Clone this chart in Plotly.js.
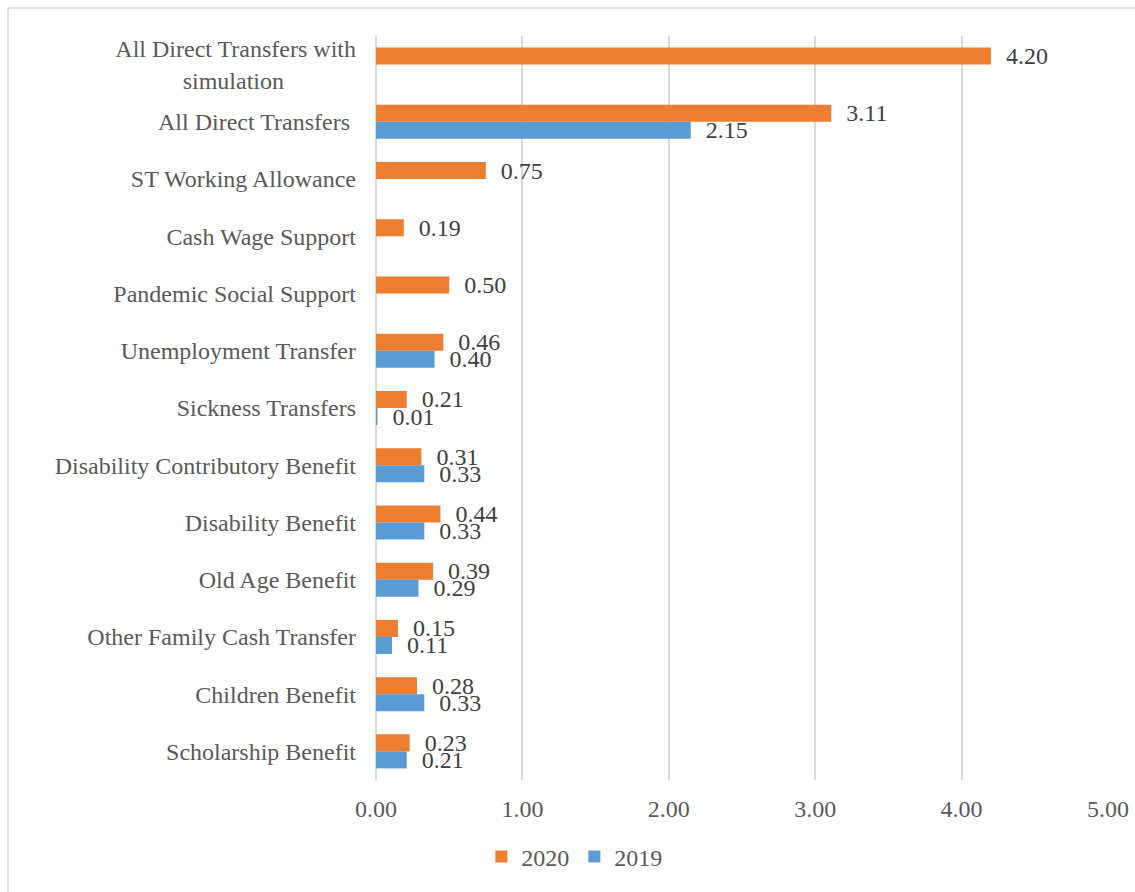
<!DOCTYPE html>
<html>
<head>
<meta charset="utf-8">
<script src="https://cdn.plot.ly/plotly-3.0.1.min.js"></script>
<style>html,body{margin:0;padding:0;background:#fff;}#chart{width:1135px;height:892px;}</style>
</head>
<body>
<div id="chart"></div>
<script>
const NB = '\u00A0';
const categories = [
  'All Direct Transfers with<br>simulation' + NB.repeat(12),
  'All Direct Transfers' + NB,
  'ST Working Allowance',
  'Cash Wage Support',
  'Pandemic Social Support',
  'Unemployment Transfer',
  'Sickness Transfers',
  'Disability Contributory Benefit',
  'Disability Benefit',
  'Old Age Benefit',
  'Other Family Cash Transfer',
  'Children Benefit',
  'Scholarship Benefit'
];
const values2020 = [4.20, 3.11, 0.75, 0.19, 0.50, 0.46, 0.21, 0.31, 0.44, 0.39, 0.15, 0.28, 0.23];
const values2019 = [null, 2.15, null, null, null, 0.40, 0.01, 0.33, 0.33, 0.29, 0.11, 0.33, 0.21];
const xTicks = [0, 1, 2, 3, 4, 5];
const xTickLabels = ['0.00', '1.00', '2.00', '3.00', '4.00', '5.00'];

const font = {family: '"Liberation Serif", "Times New Roman", serif', size: 24, color: '#595959'};
const labelFont = {family: '"Liberation Serif", "Times New Roman", serif', size: 24, color: '#404040'};

const traces = [
  {
    type: 'bar', orientation: 'h', name: '2020',
    y: categories, x: values2020,
    marker: {color: '#ED7D31'},
    texttemplate: NB + NB + '%{x:.2f}', textposition: 'outside',
    textfont: labelFont, constraintext: 'none', cliponaxis: false,
    hoverinfo: 'x+name'
  },
  {
    type: 'bar', orientation: 'h', name: '2019',
    y: categories, x: values2019,
    marker: {color: '#5B9BD5'},
    texttemplate: NB + NB + '%{x:.2f}', textposition: 'outside',
    textfont: labelFont, constraintext: 'none', cliponaxis: false,
    hoverinfo: 'x+name'
  }
];

const layout = {
  width: 1135, height: 892,
  margin: {l: 376, r: 27, t: 36, b: 112, pad: 0},
  paper_bgcolor: '#ffffff', plot_bgcolor: '#ffffff',
  font: font,
  barmode: 'group', bargap: 0.405, bargroupgap: 0,
  showlegend: true,
  legend: {orientation: 'h', x: 0.271, xanchor: 'center', y: -0.1035, yanchor: 'middle',
           font: font, traceorder: 'normal', itemwidth: 30, tracegroupgap: 0},
  xaxis: {
    range: [0, 5], tickvals: xTicks, ticktext: xTickLabels,
    showgrid: true, gridcolor: '#d9d9d9', gridwidth: 2,
    zeroline: true, zerolinecolor: '#d9d9d9', zerolinewidth: 2,
    showline: false, ticks: '', ticklabelstandoff: 12,
    tickfont: font, fixedrange: true
  },
  yaxis: {
    type: 'category', autorange: 'reversed',
    showgrid: false, zeroline: false, showline: false, ticks: '',
    ticklabelstandoff: 19, tickfont: font, fixedrange: true
  },
  shapes: [{
    type: 'rect', xref: 'paper', yref: 'paper',
    x0: (8 - 376) / 732, x1: (1145 - 376) / 732,
    y0: (780 - 900) / 744, y1: (780 - 8) / 744,
    line: {color: '#d9d9d9', width: 1.5}, fillcolor: 'rgba(0,0,0,0)', layer: 'below'
  }]
};

Plotly.newPlot('chart', traces, layout, {displayModeBar: false, staticPlot: true});
</script>
</body>
</html>
